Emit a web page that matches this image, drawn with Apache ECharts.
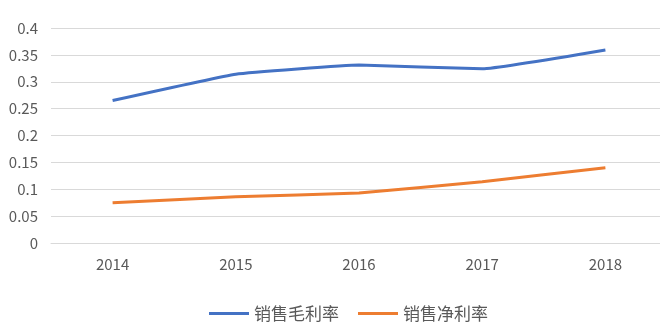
<!DOCTYPE html>
<html>
<head>
<meta charset="utf-8">
<script src="https://cdn.jsdelivr.net/npm/echarts@6/dist/echarts.min.js"></script>
<style>
  html, body { margin: 0; padding: 0; background: #ffffff; }
  #chart { width: 660px; height: 325px; }
</style>
</head>
<body>
<div id="chart"></div>
<script>
// Years on the category axis
const years = ['2014', '2015', '2016', '2017', '2018'];
// Gross margin on sales
const grossMargin = [0.265, 0.314, 0.331, 0.324, 0.359];
// Net margin on sales
const netMargin = [0.075, 0.086, 0.093, 0.114, 0.140];
// Value-axis ticks
const yTicks = [0, 0.05, 0.1, 0.15, 0.2, 0.25, 0.3, 0.35, 0.4];

const seriesNames = ['销售毛利率', '销售净利率'];
const seriesColors = ['#4472C4', '#ED7D31'];
const labelFont = '"Noto Sans CJK SC", "Noto Sans", sans-serif';

const chart = echarts.init(document.getElementById('chart'), null, { renderer: 'canvas' });

chart.setOption({
  animation: false,
  backgroundColor: '#ffffff',
  // plot area runs a little past the right edge of the canvas
  grid: { left: 51, width: 616, top: 28, height: 215, outerBoundsMode: 'none' },
  legend: {
    data: seriesNames.map(function (n) { return { name: n, icon: 'rect' }; }),
    left: 204,
    top: 300,
    itemWidth: 40,
    itemHeight: 3,
    itemGap: 19,
    textStyle: { fontFamily: labelFont, fontSize: 17, color: '#595959' }
  },
  xAxis: {
    type: 'category',
    data: years,
    boundaryGap: true,
    axisLine: { show: true, lineStyle: { color: '#d9d9d9', width: 1 } },
    axisTick: { show: false },
    axisLabel: { fontFamily: labelFont, fontSize: 15, color: '#595959', margin: 14 }
  },
  yAxis: {
    type: 'value',
    min: yTicks[0],
    max: yTicks[yTicks.length - 1],
    interval: yTicks[1] - yTicks[0],
    axisLine: { show: false },
    axisTick: { show: false },
    splitLine: { show: true, lineStyle: { color: '#d9d9d9', width: 1 } },
    axisLabel: {
      fontFamily: labelFont, fontSize: 15, color: '#595959', margin: 13,
      formatter: function (v) { return String(parseFloat(v.toFixed(2))); }
    }
  },
  series: [
    {
      name: seriesNames[0],
      type: 'line',
      data: grossMargin,
      smooth: 0.1,
      showSymbol: false,
      symbol: 'none',
      lineStyle: { color: seriesColors[0], width: 3 },
      itemStyle: { color: seriesColors[0] }
    },
    {
      name: seriesNames[1],
      type: 'line',
      data: netMargin,
      smooth: 0.1,
      showSymbol: false,
      symbol: 'none',
      lineStyle: { color: seriesColors[1], width: 3 },
      itemStyle: { color: seriesColors[1] }
    }
  ]
});
</script>
</body>
</html>
